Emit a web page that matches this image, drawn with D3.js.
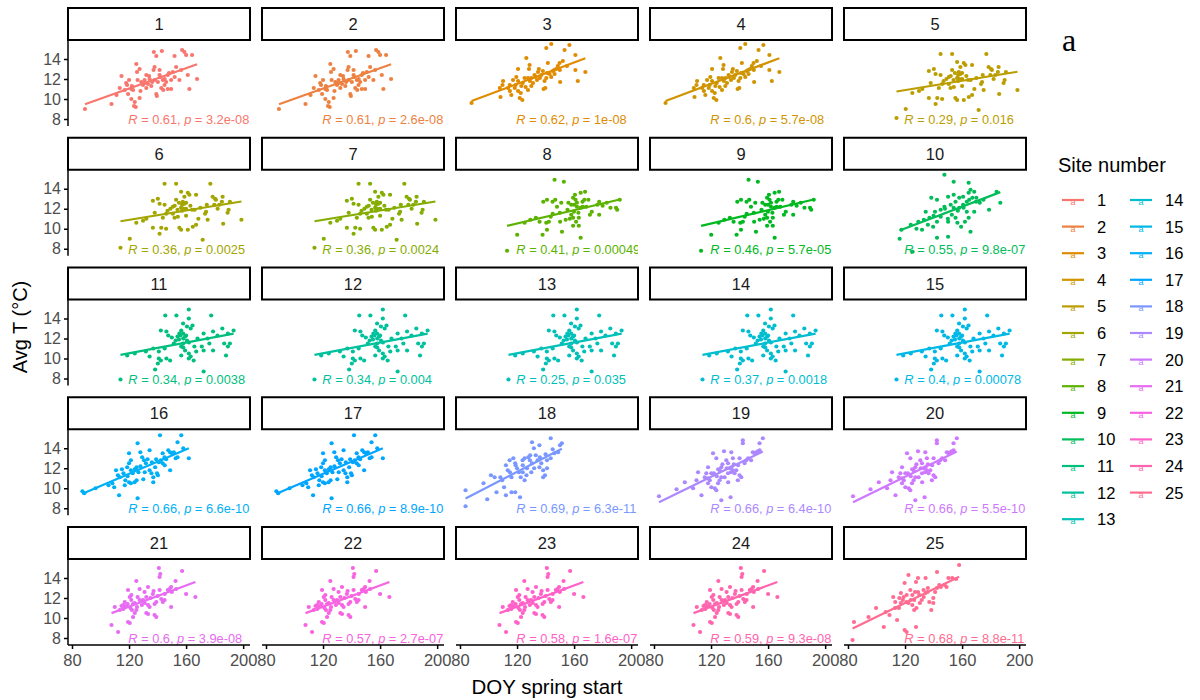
<!DOCTYPE html>
<html><head><meta charset="utf-8">
<script src="https://cdn.jsdelivr.net/npm/d3@7"></script>
<style>
body{margin:0;background:#fff}
svg{display:block}
text{font-family:"Liberation Sans",Arial,Helvetica,sans-serif}
text.serif{font-family:"Liberation Serif","Times New Roman",serif}
</style>
</head><body>
<svg id="chart" width="1200" height="700"></svg>
<script>
// ---------------- data ----------------
const siteLabels = ["1","2","3","4","5","6","7","8","9","10","11","12","13","14","15","16","17","18","19","20","21","22","23","24","25"];
// which point cloud each site panel shows (panels that look alike share a cloud)
const siteCloud = ["A","A","B","B","C","C","C","D","D","E","F","F","F","F","F","G","G","H","I","I","J","J","J","J","K"];
const rValues = ["0.61","0.61","0.62","0.6","0.29","0.36","0.36","0.41","0.46","0.55","0.34","0.34","0.25","0.37","0.4","0.66","0.66","0.69","0.66","0.66","0.6","0.57","0.58","0.59","0.68"];
const pValues = ["3.2e-08","2.6e-08","1e-08","5.7e-08","0.016","0.0025","0.0024","0.00049","5.7e-05","9.8e-07","0.0038","0.004","0.035","0.0018","0.00078","6.6e-10","8.9e-10","6.3e-11","6.4e-10","5.5e-10","3.9e-08","2.7e-07","1.6e-07","9.3e-08","8.8e-11"];

const doyA = [89.1,107.7,114.7,111.2,118.6,120.0,121.6,121.6,123.5,124.7,124.0,127.4,125.1,127.4,125.6,132.1,133.3,134.4,137.4,139.1,143.0,140.2,139.1,139.5,137.2,141.4,143.7,144.9,146.0,142.6,147.2,149.5,151.9,153.0,150.7,157.2,158.8,160.0,164.2,167.7,162.3,161.2,156.5,155.3,129.8,128.6,117.0,119.3,113.5,135.6,136.2,130.9,149.5,147.2,141.4,137.9,122.8,132.1,
  118,122,126,131,134,138,142,145,148,152,128,144];
const tempA = [9.0,9.5,12.3,10.4,11.4,11.9,11.0,10.0,9.3,9.2,9.7,10.1,13.5,13.0,12.7,12.4,11.5,12.0,14.7,14.3,14.8,11.7,10.5,10.3,12.9,12.4,11.9,11.4,11.7,11.1,11.0,11.0,14.3,13.2,12.7,14.9,14.7,14.4,14.4,12.0,11.0,12.4,12.9,11.9,11.4,11.7,10.9,10.5,11.1,11.3,11.7,11.9,11.9,12.4,12.9,13.2,10.9,11.1,
  11.6,11.3,11.9,11.6,12.3,11.9,12.2,12.0,12.6,12.2,10.8,10.9];

const doyB = [88.1,108.4,107.9,110.2,109.8,116.0,120.7,122.6,121.9,123.7,127.7,119.5,120.7,117.2,120.7,126.5,128.8,128.4,125.3,130.0,132.3,135.3,134.7,134.0,139.3,138.6,139.8,141.6,140.5,144.0,153.3,156.7,160.9,149.8,152.1,148.6,160.9,167.9,162.6,150.2,142.8,144.0,145.1,147.4,137.0,138.1,114.9,113.7,131.2,127.7,140.5,146.3,123.0,118.4,
  115,119,124,129,133,136,141,146,150,155,126,130];
const tempB = [9.6,10.2,11.1,11.8,11.4,10.4,10.8,10.6,10.1,9.9,10.9,12.2,11.8,11.9,13.0,14.1,13.4,13.0,12.1,12.1,12.4,13.0,12.7,11.9,11.8,11.0,11.1,13.6,15.1,15.5,14.9,15.4,14.4,13.6,13.8,13.3,12.9,12.7,11.8,11.7,12.5,12.2,12.8,13.0,12.4,12.8,11.4,11.1,11.6,12.1,12.1,12.5,11.3,11.1,
  10.8,11.4,11.6,11.8,12.2,12.1,12.6,12.9,12.9,13.3,11.2,11.3];

const doyC = [114.0,120.5,144.9,153.0,177.0,171.6,198.8,186.0,189.1,189.8,190.7,185.6,185.1,180.9,179.8,182.1,174.0,175.1,168.6,164.2,160.0,158.8,160.0,161.2,162.3,167.0,156.5,158.8,157.7,157.2,156.5,157.2,141.4,144.9,140.2,146.0,143.7,142.6,146.0,136.7,141.4,155.3,156.5,161.2,132.1,129.8,125.1,150.7,151.9,167.0,164.7,174.5,180.3,150.7,154.2,136.7,173.3,183.3,178.6,
  152,155,158,154,149,160,163,170,147,138,166,153];
const tempC = [8.1,9.0,14.5,14.5,14.5,8.9,10.9,10.5,11.6,11.9,12.7,13.2,12.7,12.9,12.4,12.0,11.7,10.9,11.0,11.9,11.3,12.5,12.0,13.6,13.4,13.4,13.7,13.2,12.7,12.4,12.1,11.8,12.5,12.4,13.0,11.5,11.1,10.1,10.0,10.1,9.5,10.1,9.9,9.9,11.0,10.8,10.6,11.5,11.1,10.4,10.2,12.4,13.0,12.2,11.2,12.8,11.5,12.4,13.2,
  12.3,12.6,12.0,11.9,12.0,12.6,12.3,12.1,11.8,11.6,11.9,12.9];

const doyD = [113.0,120.1,137.9,141.0,142.3,140.5,151.5,150.2,164.6,146.3,152.8,138.4,141.0,144.9,146.8,151.0,159.3,160.6,164.6,167.7,162.0,165.9,158.0,159.9,163.3,161.4,159.3,163.3,172.4,176.3,177.6,185.5,189.4,190.2,192.0,177.6,162.0,158.0,155.4,164.6,168.5,133.2,129.3,135.8,125.3,143.6,154.1,167.2,171.1,182.9,159.3,
  156,160,161,163,157,150,145,166,180,170,148];
const tempD = [7.8,9.4,9.4,9.9,10.7,10.6,9.7,10.7,9.1,14.9,14.7,12.7,12.9,12.7,12.9,12.6,13.1,13.4,13.6,13.7,12.6,12.7,11.4,11.7,11.1,10.7,10.3,10.3,11.7,12.4,12.7,12.1,12.1,11.9,12.9,11.4,12.2,12.4,11.9,12.1,12.2,11.1,10.9,10.7,10.6,11.2,10.9,12.9,11.4,12.6,11.1,
  12.6,12.4,12.9,11.6,11.0,11.6,11.5,12.2,12.3,12.9,12.2];

const doyE = [116.2,125.3,117.5,129.3,133.2,137.1,141.0,145.0,139.7,142.4,138.4,142.4,147.6,154.1,164.6,150.2,154.1,155.4,158.0,160.7,163.3,164.6,165.9,168.5,167.2,169.8,152.8,155.4,156.7,159.3,162.0,164.6,165.9,150.2,142.4,178.9,186.8,184.2,134.5,147.6,158.0,145.0,168.5,131.9,124.0,160.7,172.4,150.2,154.1,163.3,
  148,152,157,161,165,170,140,136,128,150,175];
const tempE = [9.0,7.7,9.9,10.7,10.9,11.1,11.7,11.9,10.2,10.7,13.1,12.9,15.4,14.7,14.6,13.2,13.4,12.7,13.1,12.4,12.7,13.6,13.9,13.7,13.1,12.7,11.4,11.1,10.6,10.2,10.7,11.1,9.7,9.2,9.1,11.9,12.6,13.7,11.7,12.2,12.1,11.2,11.7,9.9,10.4,13.2,12.6,10.7,12.1,11.7,
  12.0,12.4,11.8,12.1,12.9,13.1,11.3,10.4,10.0,11.0,12.9];

const doyF = [114.0,145.4,153.2,161.9,177.6,142.3,146.2,147.5,157.9,160.6,163.2,164.5,156.6,157.9,159.3,160.6,157.9,156.6,159.3,161.9,163.2,161.9,172.3,178.9,185.4,193.3,189.3,186.7,190.7,189.3,188.0,176.3,178.9,171.0,172.3,165.8,167.1,140.9,134.4,140.9,142.3,146.2,148.8,140.2,138.3,156.6,161.9,165.3,172.3,131.8,151.4,152.7,154.0,155.3,124.0,118.7,
  155,158,156,160,162,158,150,168,175,182,145,137];
const tempF = [7.9,14.3,14.3,14.9,14.3,12.8,12.7,12.3,13.5,13.2,13.0,13.3,12.8,12.5,12.2,11.8,11.5,11.2,10.8,10.5,10.2,14.0,12.5,12.7,13.0,12.8,12.5,11.5,11.5,11.2,10.3,11.5,10.8,11.2,10.8,11.2,10.7,10.7,10.2,10.0,9.8,10.0,9.8,9.5,8.9,10.3,10.0,9.8,8.7,10.7,11.5,11.8,12.2,12.5,10.5,10.3,
  11.9,12.0,12.3,12.3,11.6,11.1,12.1,12.0,12.0,12.3,11.0,11.0];

const doyG = [87.3,88.6,96.5,105.6,108.3,109.6,110.9,112.2,113.5,113.0,116.1,117.4,120.0,121.3,120.0,118.7,121.3,122.6,120.0,121.3,123.9,125.3,126.0,126.0,127.9,129.2,130.5,131.8,134.4,134.4,135.7,137.0,138.3,139.6,140.2,137.0,140.9,142.3,143.6,141.7,143.6,144.9,147.5,148.8,150.1,151.4,148.8,152.7,154.0,154.0,156.6,161.9,158.0,125.3,126.6,
  115,119,124,128,131,133,136,139,145,146,117,130];
const tempG = [9.7,9.5,10.0,10.3,10.5,10.1,11.8,11.3,11.1,9.3,11.5,10.8,13.5,12.8,12.5,12.1,11.8,11.5,10.6,10.5,10.6,10.8,14.5,9.0,13.6,13.1,12.8,12.5,13.8,11.8,11.5,11.1,12.1,11.5,11.3,10.6,12.6,12.8,12.5,15.3,13.5,13.1,13.8,13.6,13.5,13.6,11.8,13.0,13.1,14.6,15.3,13.0,14.0,12.1,11.6,
  11.9,11.2,11.9,12.2,11.6,12.9,12.6,12.9,12.3,12.9,10.3,10.9];

const doyH = [83.9,83.9,99.1,105.6,112.2,116.1,122.1,96.5,101.7,104.3,108.3,109.6,112.2,113.5,114.8,117.4,118.7,120.0,121.3,122.6,125.3,126.6,123.9,125.3,127.9,129.2,130.5,135.7,131.8,133.1,134.4,137.0,138.3,141.0,139.6,138.3,143.6,150.1,151.4,148.8,146.2,143.6,141.0,118.7,110.9,116.1,130.5,135.7,
  115,119,124,127,129,132,136,140,145,124,130];
const tempH = [8.2,9.8,8.9,9.6,9.3,9.6,9.1,10.5,11.3,11.1,11.1,10.8,12.3,11.8,12.8,13.0,12.5,12.0,11.6,11.1,10.8,11.3,12.8,13.0,13.1,13.3,14.6,14.3,14.0,13.3,12.8,12.5,11.8,12.0,11.3,11.1,15.0,14.3,14.5,13.6,13.5,13.0,12.8,9.6,10.1,11.1,12.5,12.1,
  11.6,12.3,12.3,12.0,12.8,12.0,13.1,13.4,13.9,11.6,11.6];

const doyI = [83.5,95.8,101.6,107.4,109.8,110.9,113.3,115.6,116.7,117.9,119.1,120.2,121.4,122.6,123.7,124.9,126.0,127.2,126.0,127.2,129.1,123.7,127.2,130.7,131.9,133.0,131.9,134.2,133.7,135.3,134.2,135.3,136.5,137.7,138.8,140.0,141.2,140.0,142.3,142.3,143.5,144.7,148.1,149.3,150.5,151.6,152.8,154.0,156.3,154.0,117.9,120.2,129.5,
  118,122,125,128,131,134,136,139,146,124,132];
const tempI = [9.2,9.9,10.6,10.0,10.8,11.6,9.3,11.1,11.5,10.5,10.8,10.1,13.5,10.0,9.8,10.5,10.8,11.1,11.8,12.1,13.7,13.0,8.8,12.8,12.5,12.0,11.5,13.6,9.1,13.0,12.1,11.8,11.5,11.8,10.8,11.3,11.1,13.0,14.8,14.5,12.5,12.8,12.8,13.6,13.5,13.6,13.7,13.8,15.0,14.5,12.1,11.5,11.1,
  11.0,11.5,11.9,12.4,12.0,11.6,12.4,12.3,13.0,11.2,10.6];

const doyJ = [107.7,112.3,110.0,113.5,115.8,117.0,118.1,119.3,120.5,121.6,122.8,121.6,119.3,120.5,122.8,124.0,125.1,125.6,125.1,127.4,127.4,129.8,130.9,132.1,133.3,134.4,133.3,132.1,133.3,137.9,139.1,137.9,139.1,136.7,137.2,140.9,141.9,141.4,142.6,143.7,144.9,141.4,147.2,148.4,149.5,149.5,153.0,152.6,157.2,160.0,166.5,117.0,114.7,
  116,119,121,124,126,129,131,135,140,145,122,150];
const tempJ = [9.3,8.6,11.1,10.8,11.3,11.1,11.2,12.8,12.1,11.8,11.4,12.3,9.6,9.5,10.1,10.5,10.8,11.1,13.7,12.9,11.8,11.8,12.6,12.1,11.3,11.1,13.1,10.5,10.4,10.3,10.1,11.4,11.6,12.4,12.7,15.0,14.4,14.1,11.9,11.6,11.8,12.8,12.8,12.9,13.1,11.1,12.9,13.7,14.7,12.4,12.1,11.6,11.2,
  10.9,11.4,11.0,11.5,12.1,11.3,11.5,12.0,12.2,12.4,10.8,12.6];

const doyK = [83.2,84.2,94.4,99.7,105.1,106.4,109.1,111.7,113.1,114.4,115.7,117.1,118.4,117.1,119.7,119.7,121.1,122.4,123.7,125.1,126.4,125.1,126.4,127.7,127.7,129.1,130.4,131.7,133.1,134.4,134.4,135.8,138.4,139.8,139.8,142.4,141.1,142.4,145.1,147.8,150.4,153.1,149.1,157.9,155.8,121.1,122.4,129.1,
  116,119,121,124,127,130,133,136,144,128,113,137];
const tempK = [7.8,9.6,10.1,11.0,9.1,10.6,10.3,12.1,11.6,9.8,11.0,11.5,11.8,12.5,13.5,8.8,8.6,14.3,12.8,12.3,11.8,11.3,10.8,9.1,13.6,14.0,11.5,11.8,12.1,12.5,14.0,12.6,10.8,11.5,12.0,14.6,12.6,13.0,13.1,13.3,14.0,14.0,13.1,15.3,13.9,12.3,11.5,12.6,
  12.0,12.1,11.6,11.8,12.6,12.3,12.8,13.0,13.3,11.0,11.0,11.6];

const xTicks = [80,120,160,200];
const yTicks = [8,10,12,14];
const xDomain = [77.2,204.8];
const yDomain = [7.3,15.9];
const labelAt = [119.5,8];   // position of the R/p annotation in data units

const clouds = {
  A:[doyA,tempA], B:[doyB,tempB], C:[doyC,tempC], D:[doyD,tempD], E:[doyE,tempE],
  F:[doyF,tempF], G:[doyG,tempG], H:[doyH,tempH], I:[doyI,tempI], J:[doyJ,tempJ], K:[doyK,tempK]
};

// ---------------- colours: ggplot2 hue palette (polar LUV) ----------------
function hclHex(h,c,l){
  const WX=95.047,WY=100,WZ=108.883;
  const hr=h*Math.PI/180, U=c*Math.cos(hr), V=c*Math.sin(hr);
  const Y = WY*(l>7.999592 ? Math.pow((l+16)/116,3) : l/903.3);
  const t = WX+15*WY+3*WZ, un=4*WX/t, vn=9*WY/t;
  const u=U/(13*l)+un, v=V/(13*l)+vn;
  const X=9*Y*u/(4*v), Z=-X/3-5*Y+3*Y/v;
  const g=x=>{x=x>0.00304?1.055*Math.pow(x,1/2.4)-0.055:12.92*x;return Math.round(255*Math.max(0,Math.min(1,x)));};
  const R=g(( 3.240479*X-1.537150*Y-0.498535*Z)/WY);
  const G=g((-0.969256*X+1.875992*Y+0.041556*Z)/WY);
  const B=g(( 0.055648*X-0.204043*Y+1.057311*Z)/WY);
  return d3.rgb(R,G,B).formatHex();
}
const color = d3.scaleOrdinal().domain(siteLabels)
  .range(siteLabels.map((s,i)=>hclHex(15+i*360/25,100,65)));

// ---------------- layout ----------------
const svg = d3.select("#chart");
const panelW = 182, panelH = 86, stripH = 32, colStep = 194, rowStep = 129.75;
const left0 = 68, top0 = 8;

const x = d3.scaleLinear().domain(xDomain).range([0,panelW]);
const y = d3.scaleLinear().domain(yDomain).range([panelH,0]);

const defs = svg.append("defs");
defs.append("clipPath").attr("id","pclip").append("rect").attr("width",panelW).attr("height",panelH);

siteLabels.forEach((site,i)=>{
  const col=i%5, row=Math.floor(i/5);
  const gx=left0+col*colStep, gy=top0+row*rowStep;
  const g=svg.append("g").attr("transform",`translate(${gx},${gy})`);
  // strip
  g.append("rect").attr("x",0).attr("y",0).attr("width",panelW).attr("height",stripH)
    .attr("fill","#fff").attr("stroke","#000").attr("stroke-width",2);
  g.append("text").attr("x",panelW/2).attr("y",stripH/2).attr("text-anchor","middle")
    .attr("dominant-baseline","central").attr("font-size",16.5).attr("fill","#1A1A1A").text(site);

  const p=g.append("g").attr("transform",`translate(0,${stripH})`);
  const body=p.append("g").attr("clip-path","url(#pclip)");
  const [xs,ys]=clouds[siteCloud[i]];
  const pts=d3.zip(xs,ys);
  const c=color(site);
  body.selectAll("circle").data(pts).join("circle")
    .attr("cx",d=>x(d[0])).attr("cy",d=>y(d[1])).attr("r",2.1).attr("fill",c);
  // linear fit
  const mx=d3.mean(pts,d=>d[0]), my=d3.mean(pts,d=>d[1]);
  const b=d3.sum(pts,d=>(d[0]-mx)*(d[1]-my))/d3.sum(pts,d=>(d[0]-mx)**2);
  const a=my-b*mx;
  const ext=d3.extent(pts,d=>d[0]);
  body.append("line").attr("x1",x(ext[0])).attr("y1",y(a+b*ext[0]))
    .attr("x2",x(ext[1])).attr("y2",y(a+b*ext[1])).attr("stroke",c).attr("stroke-width",2.2);
  // annotation
  const t=body.append("text").attr("x",x(labelAt[0])).attr("y",y(labelAt[1]))
    .attr("dominant-baseline","central").attr("font-size",12.8).attr("fill",c);
  t.append("tspan").attr("font-style","italic").text("R");
  t.append("tspan").text(` = ${rValues[i]}, `);
  t.append("tspan").attr("font-style","italic").text("p");
  t.append("tspan").text(` = ${pValues[i]}`);

  if(col===0){
    const ay=p.append("g").call(d3.axisLeft(y).tickValues(yTicks).tickSize(4).tickPadding(3));
    ay.select(".domain").attr("stroke","#000").attr("stroke-width",1.5).attr("d",`M0,0V${panelH}`);
    ay.selectAll(".tick line").attr("stroke","#000").attr("stroke-width",1.5);
    ay.selectAll(".tick text").attr("font-size",16).attr("fill","#4D4D4D");
  }
  if(row===4){
    const ax=p.append("g").attr("transform",`translate(0,${panelH})`)
      .call(d3.axisBottom(x).tickValues(xTicks).tickSize(4).tickPadding(5));
    ax.select(".domain").attr("stroke","#000").attr("stroke-width",1.5).attr("d",`M0,0H${panelW}`);
    ax.selectAll(".tick line").attr("stroke","#000").attr("stroke-width",1.5);
    ax.selectAll(".tick text").attr("font-size",16.5).attr("fill","#4D4D4D");
  }
});

// axis titles
svg.append("text").attr("x",left0+(4*colStep+panelW)/2).attr("y",694).attr("text-anchor","middle")
  .attr("font-size",20.5).attr("fill","#000").text("DOY spring start");
svg.append("text").attr("transform","translate(27,327) rotate(-90)").attr("text-anchor","middle")
  .attr("font-size",20).attr("fill","#000").text("Avg T (°C)");

// panel tag
svg.append("text").attr("class","serif").attr("x",1062).attr("y",51).attr("font-size",32)
  .attr("fill","#000").text("a");

// legend
const leg=svg.append("g");
leg.append("text").attr("x",1058).attr("y",172).attr("font-size",20).attr("fill","#000").text("Site number");
siteLabels.forEach((s,i)=>{
  const col=i<13?0:1, r=i<13?i:i-13;
  const kx=col===0?1062:1130, ky=200+r*26.6;
  const c=color(s);
  leg.append("line").attr("x1",kx).attr("x2",kx+22).attr("y1",ky).attr("y2",ky).attr("stroke",c).attr("stroke-width",2.2);
  leg.append("text").attr("x",kx+11).attr("y",ky+5).attr("text-anchor","middle").attr("font-size",9).attr("fill",c).text("a");
  leg.append("text").attr("x",kx+35).attr("y",ky).attr("dominant-baseline","central").attr("font-size",16.5).attr("fill","#000").text(s);
});
</script>
</body></html>
